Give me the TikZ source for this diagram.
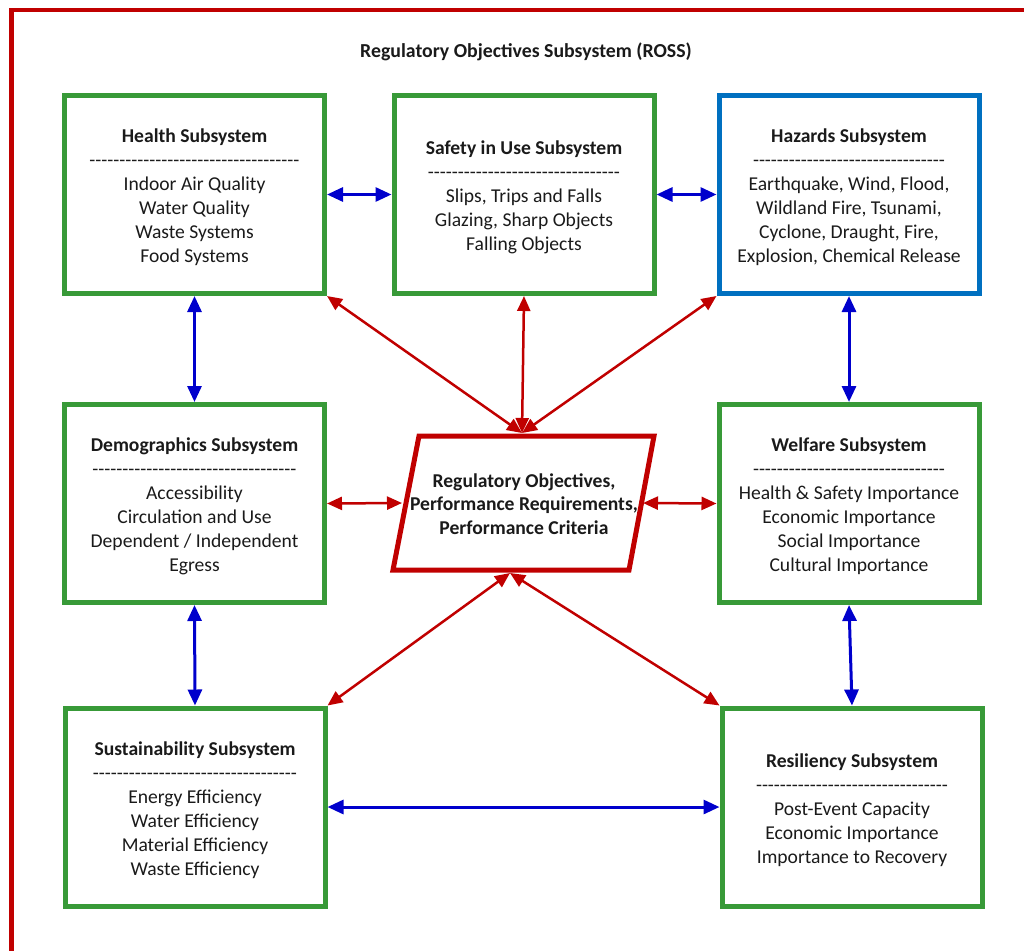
\documentclass[tikz,border=0pt]{standalone}
\usepackage{fontspec}
\setmainfont{Carlito}
\usetikzlibrary{arrows.meta}
\definecolor{rred}{HTML}{C00000}
\definecolor{rgreen}{RGB}{56,154,56}
\definecolor{rblue}{HTML}{0070C0}
\definecolor{ablue}{HTML}{0000CC}
\definecolor{txt}{HTML}{1A1A1A}
\ExplSyntaxOn
\NewDocumentCommand\dashline{m}{\prg_replicate:nn{#1}{-\kern0pt}}
\ExplSyntaxOff
\newcommand\hd[1]{\rule{0pt}{20pt}\textbf{#1}}
\begin{document}
\begin{tikzpicture}[x=1pt,y=-1pt,
  sub/.style={draw=rgreen,line width=5pt,minimum width=260pt,minimum height=198pt,
    align=center,inner sep=0pt,font=\fontsize{19.6}{24}\selectfont,text=txt},
  hz/.style={sub,draw=rblue},
  barr/.style={draw=ablue,line width=3pt,{Triangle[length=16pt,width=14pt]}-{Triangle[length=16pt,width=14pt]}},
  rarr/.style={draw=rred,line width=2.5pt,{Triangle[length=15pt,width=13pt]}-{Triangle[length=15pt,width=13pt]}}]
\useasboundingbox (0,0) rectangle (1024,950);
\clip (0,0) rectangle (1024,950);
\draw[rred,line width=4.5pt] (11.7,10) rectangle (1100,1100);

\node[font=\fontsize{19.8}{24}\selectfont\bfseries,text=txt] (title) at (526,52) {Regulatory Objectives Subsystem (ROSS)};

\node[sub] (health) at (194.5,194.5) {\hd{Health Subsystem}\\\dashline{35}\\Indoor Air Quality\\Water Quality\\Waste Systems\\Food Systems};
\node[sub] (safety) at (524,194.5) {\hd{Safety in Use Subsystem}\\\dashline{32}\\Slips, Trips and Falls\\Glazing, Sharp Objects\\Falling Objects};
\node[hz] (hazards) at (849,194.5) {\hd{Hazards Subsystem}\\\dashline{32}\\Earthquake, Wind, Flood,\\Wildland Fire, Tsunami,\\Cyclone, Draught, Fire,\\Explosion, Chemical Release};
\node[sub] (demog) at (194.5,503.5) {\hd{Demographics Subsystem}\\\dashline{34}\\Accessibility\\Circulation and Use\\Dependent / Independent\\Egress};
\node[sub] (welfare) at (849,503.5) {\hd{Welfare Subsystem}\\\dashline{32}\\Health \& Safety Importance\\Economic Importance\\Social Importance\\Cultural Importance};
\node[sub] (sust) at (195,807) {\hd{Sustainability Subsystem}\\\dashline{34}\\Energy Efficiency\\Water Efficiency\\Material Efficiency\\Waste Efficiency};
\node[sub] (resil) at (852,807) {\hd{Resiliency Subsystem}\\\dashline{32}\\Post-Event Capacity\\Economic Importance\\Importance to Recovery};

\coordinate (p1) at (419,436);
\coordinate (p2) at (654,436);
\coordinate (p3) at (629,570);
\coordinate (p4) at (393,570);
\draw[rred,line width=5pt,line join=miter,fill=white] (p1) -- (p2) -- (p3) -- (p4) -- cycle;
\node[font=\fontsize{19.6}{23.8}\selectfont\bfseries,align=center,text=txt] (ro) at (524,504) {Regulatory Objectives,\\Performance Requirements,\\Performance Criteria};

\coordinate (ptop) at (522,433);
\coordinate (pbot) at (510,573);
\coordinate (pl) at (402,503);
\coordinate (pr) at (643,503);

\draw[barr] (health.east) -- (safety.west);
\draw[barr] (safety.east) -- (hazards.west);
\draw[barr] (health.south) -- (demog.north);
\draw[barr] (hazards.south) -- (welfare.north);
\draw[barr] (demog.south) -- (sust.north);
\draw[barr] (welfare.south) -- (resil.north);
\draw[barr] (sust.east) -- (resil.west);

\draw[rarr] (health.south east) -- (ptop);
\draw[rarr] (safety.south) -- (ptop);
\draw[rarr] (hazards.south west) -- (ptop);
\draw[rarr] (demog.east) -- (pl);
\draw[rarr] (pr) -- (welfare.west);
\draw[rarr] (pbot) -- (sust.north east);
\draw[rarr] (pbot) -- (resil.north west);
\end{tikzpicture}
\end{document}
